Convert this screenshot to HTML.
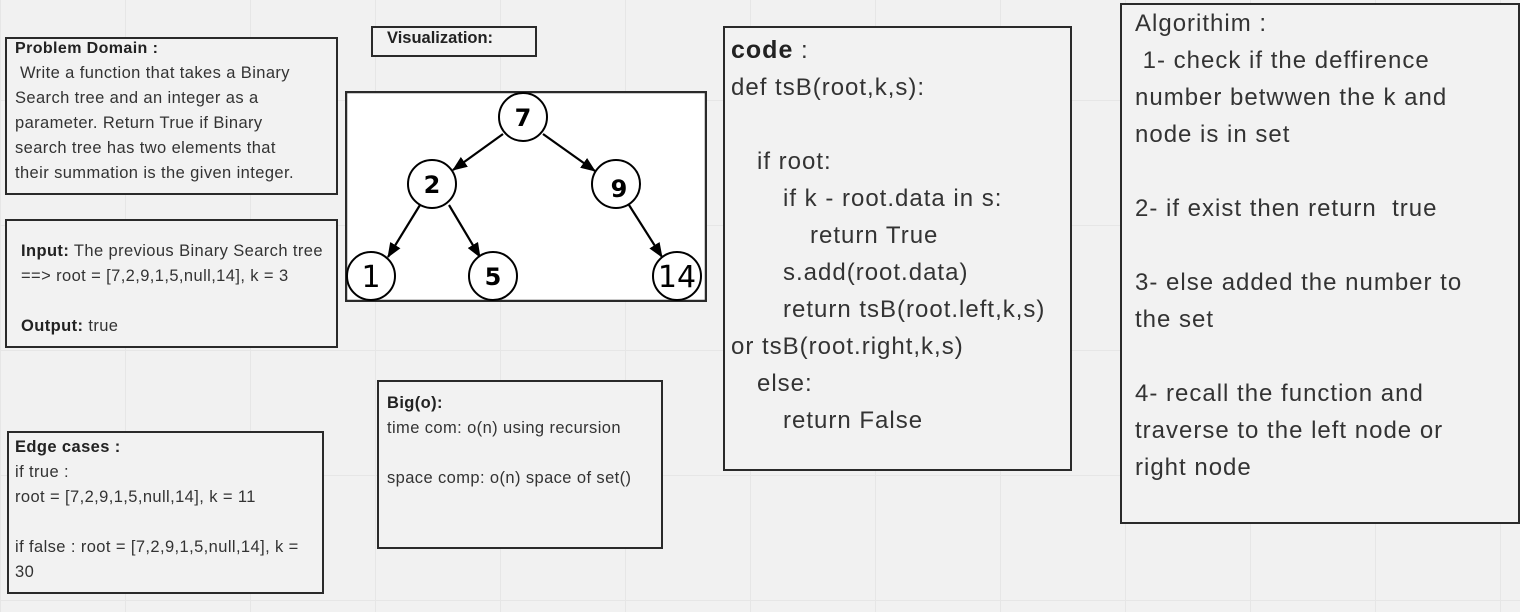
<!DOCTYPE html>
<html><head><style>
body{margin:0;width:1520px;height:612px;overflow:hidden;background:#f1f1f1;
background-image:linear-gradient(#e6e6e6 1px,transparent 1px),linear-gradient(90deg,#e6e6e6 1px,transparent 1px);
background-size:125px 125px;background-position:0 100px,0 0;
font-family:"Liberation Sans",sans-serif;color:#333;position:relative}
.b{position:absolute;border:2px solid #2a2a2a;box-sizing:border-box;background:#f2f2f2;white-space:nowrap}
.s{font-size:16.5px;line-height:25px;padding:0 8px;letter-spacing:0.4px}
b{color:#222}
.c{font-size:24px;line-height:37px;color:#333;letter-spacing:1px}
i{display:inline-block;font-style:normal}
</style></head><body>
<div class="b s" style="left:5px;top:37px;width:333px;height:158px;padding-top:0;line-height:25px"><div style="margin-top:-3px"><b style="font-size:16px">Problem Domain :</b><br>&nbsp;Write a function that takes a Binary<br>Search tree and an integer as a<br>parameter. Return True if Binary<br>search tree has two elements that<br>their summation is the given integer.</div></div>
<div class="b" style="left:371px;top:26px;width:166px;height:31px;font-weight:bold;font-size:16.5px;padding:1px 14px;color:#222">Visualization:</div>
<svg style="position:absolute;left:345px;top:91px" width="362" height="211">
<rect x="1" y="1" width="360" height="209" fill="#fff" stroke="#2a2a2a" stroke-width="2.5"/>
<defs><marker id="a" markerWidth="15" markerHeight="12" refX="14" refY="6" orient="auto" markerUnits="userSpaceOnUse"><path d="M0,0 L15,6 L0,12z" fill="#000"/></marker></defs>
<g stroke="#000" stroke-width="2.2" marker-end="url(#a)">
<line x1="158" y1="43" x2="108" y2="79"/>
<line x1="198" y1="43" x2="250" y2="80"/>
<line x1="75" y1="114" x2="43" y2="166"/>
<line x1="104" y1="114" x2="135" y2="166"/>
<line x1="284" y1="114" x2="317" y2="166"/>
</g>
<g fill="#fff" stroke="#000" stroke-width="2">
<circle cx="178" cy="26" r="24"/><circle cx="87" cy="93" r="24"/><circle cx="271" cy="93" r="24"/>
<circle cx="26" cy="185" r="24"/><circle cx="148" cy="185" r="24"/><circle cx="332" cy="185" r="24"/>
</g>
<g font-family="DejaVu Sans,sans-serif" font-weight="bold" font-size="24" text-anchor="middle" fill="#000">
<text x="178" y="35">7</text><text x="87" y="102">2</text><text x="274" y="106">9</text>
<text x="148" y="194">5</text>
</g>
<g font-family="DejaVu Sans,sans-serif" font-size="30" text-anchor="middle" fill="#000">
<text x="26" y="196">1</text><text x="332" y="196">14</text></g>
</svg>
<div class="b s" style="left:5px;top:219px;width:333px;height:129px;padding:18px 0 0 14px"><b>Input:</b> The previous Binary Search tree<br>==&gt; root = [7,2,9,1,5,null,14], k = 3<br><br><b>Output:</b> true</div>
<div class="b s" style="left:377px;top:380px;width:286px;height:169px;padding-top:9px"><b>Big(o):</b><br>time com: o(n) using recursion<br><br>space comp: o(n) space of set()</div>
<div class="b s" style="left:7px;top:431px;width:317px;height:163px;padding-top:2px;padding-left:6px"><b>Edge cases :</b><br>if true :<br>root = [7,2,9,1,5,null,14], k = 11<br><br>if false : root = [7,2,9,1,5,null,14], k =<br>30</div>
<div class="b c" style="left:723px;top:26px;width:349px;height:445px;padding:4px 6px"><b style="font-size:25px">code</b> :<br>def tsB(root,k,s):<br><br><i style="width:26px"></i>if root:<br><i style="width:52px"></i>if k - root.data in s:<br><i style="width:79px"></i>return True<br><i style="width:52px"></i>s.add(root.data)<br><i style="width:52px"></i>return tsB(root.left,k,s)<br>or tsB(root.right,k,s)<br><i style="width:26px"></i>else:<br><i style="width:52px"></i>return False</div>
<div class="b c" style="left:1120px;top:3px;width:400px;height:521px;padding:0 13px">Algorithim :<br>&nbsp;1- check if the deffirence<br>number betwwen the k and<br>node is in set<br><br>2- if exist then return &nbsp;true<br><br>3- else added the number to<br>the set<br><br>4- recall the function and<br>traverse to the left node or<br>right node</div>
</body></html>
